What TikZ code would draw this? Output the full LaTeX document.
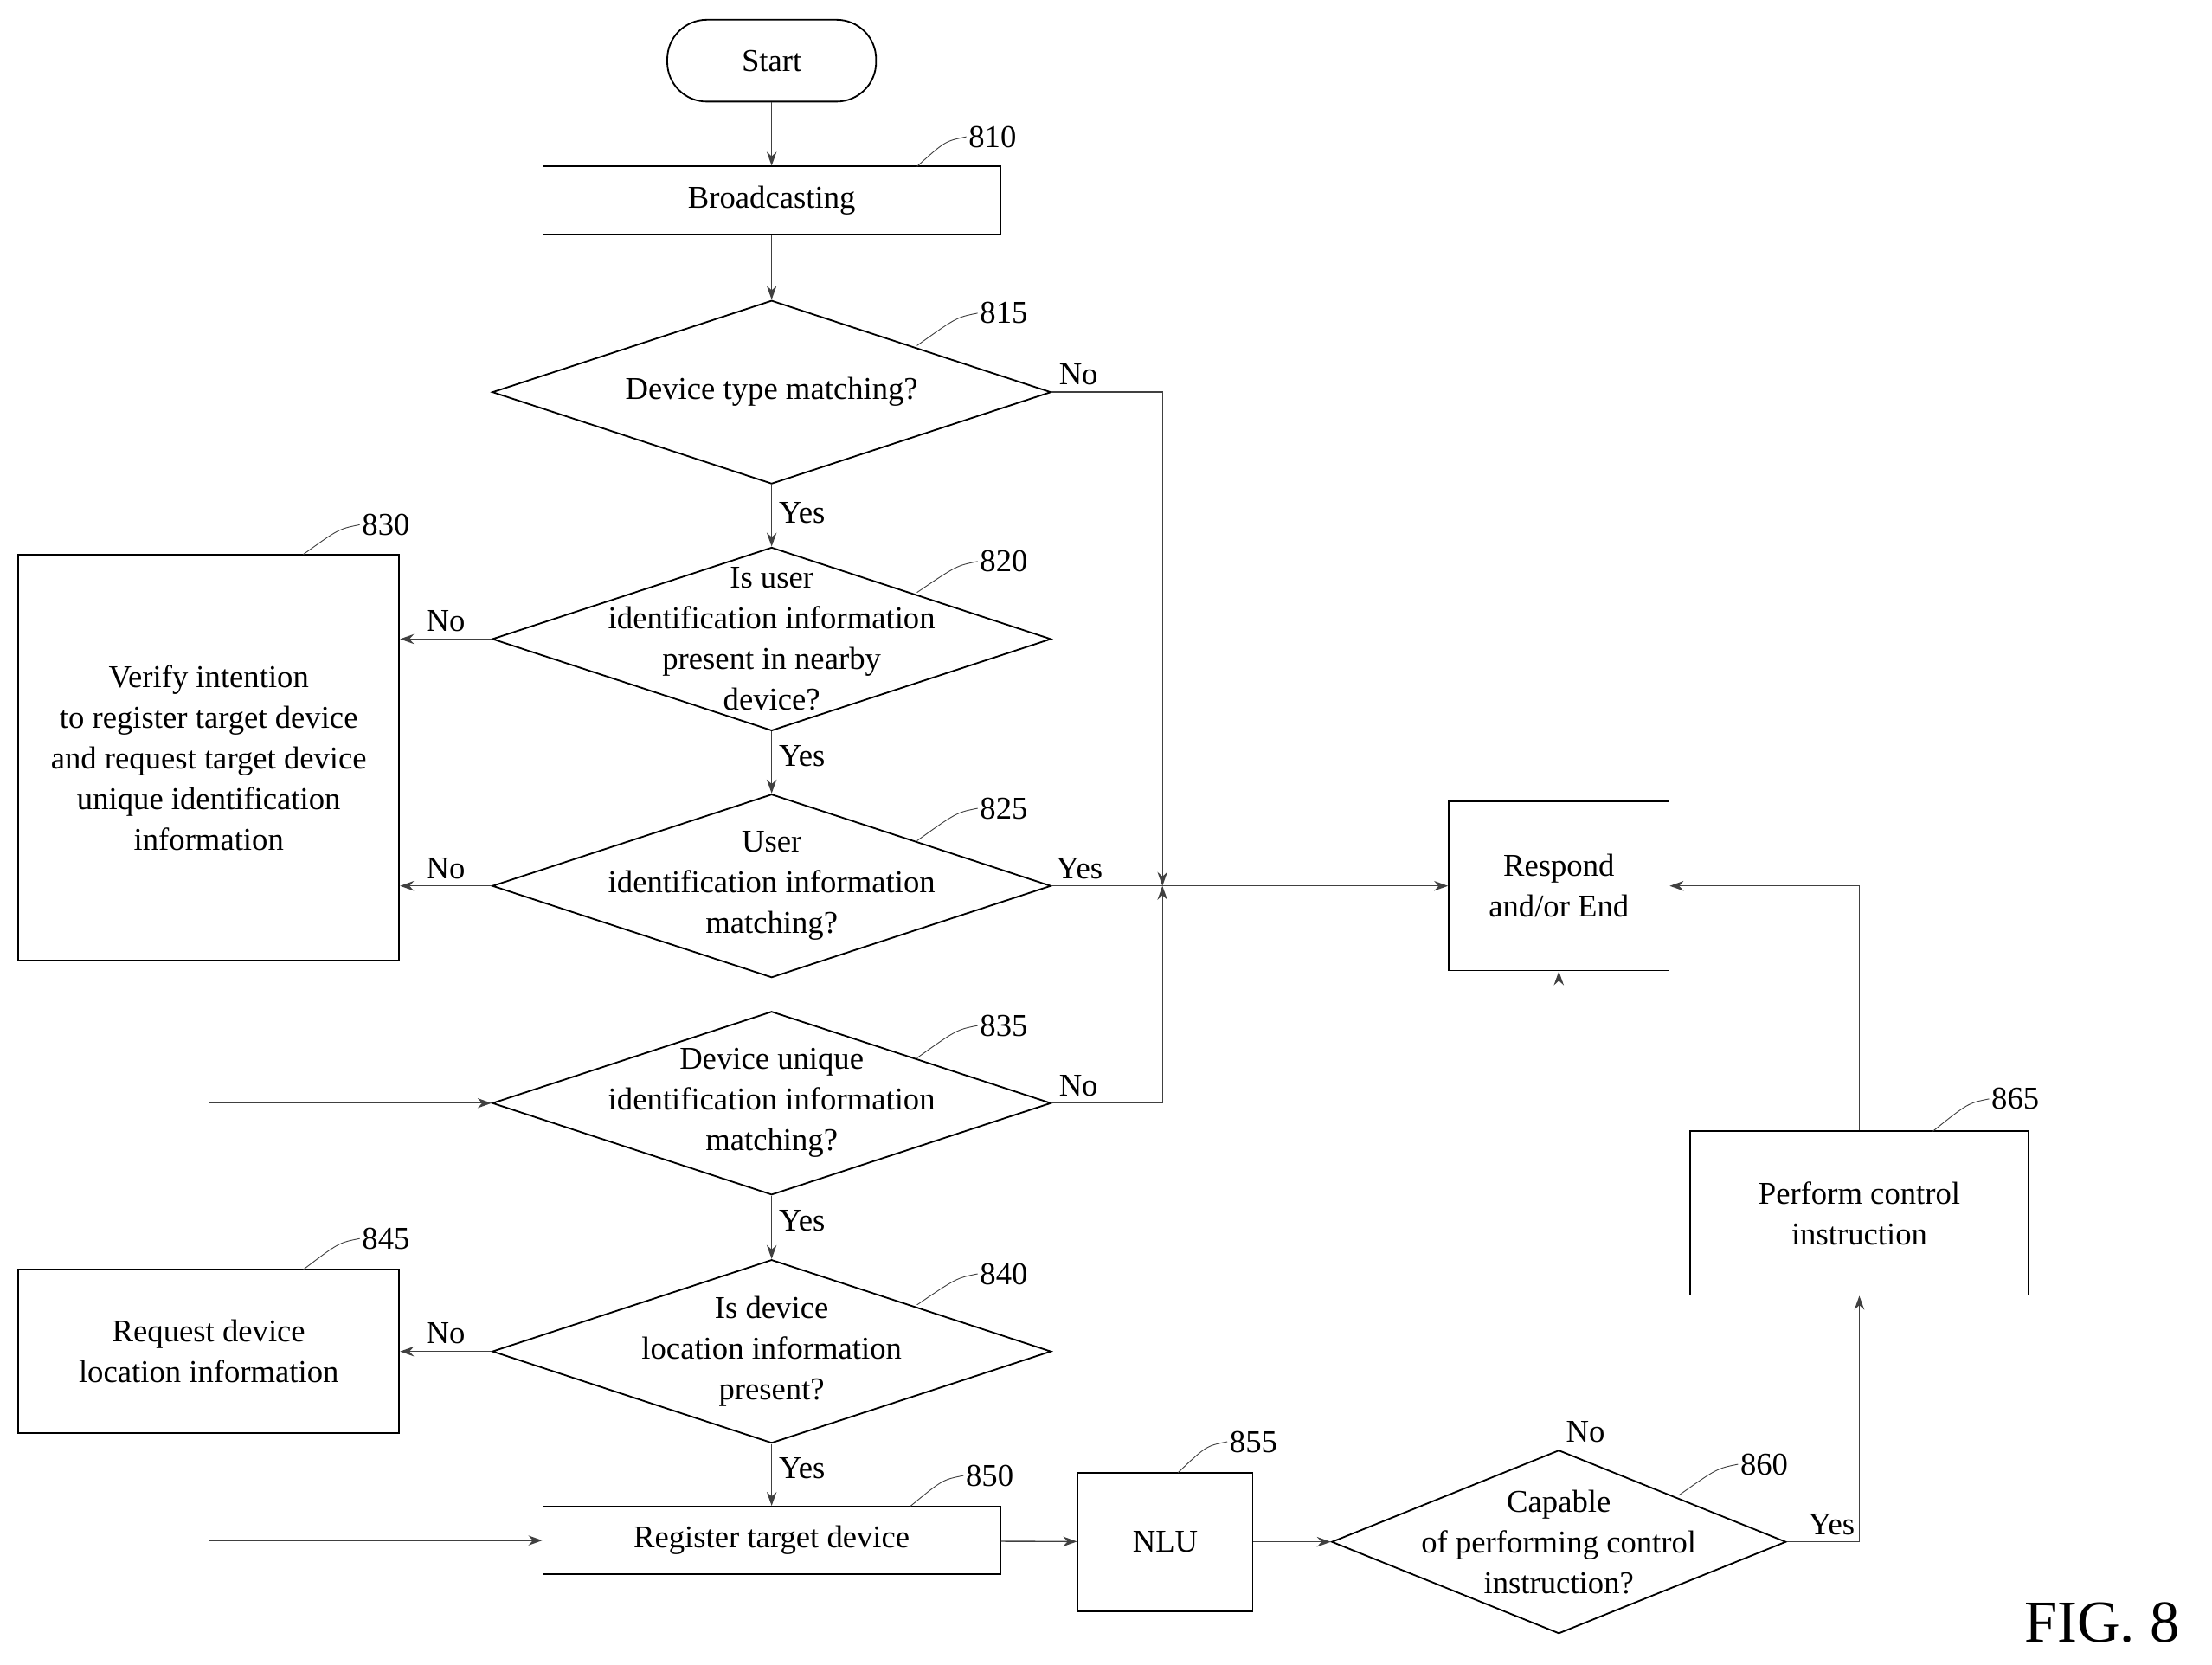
\documentclass[tikz,border=0pt]{standalone}
\usepackage{fontspec}
\setmainfont{Liberation Serif}
\usetikzlibrary{shapes.geometric,arrows.meta}
\begin{document}
\begin{tikzpicture}[x=0.025cm,y=-0.025cm,
    every node/.style={font=\fontsize{16}{20.5}\selectfont},
    box/.style={draw,thick,inner sep=0pt},
    dia/.style={draw,thick,diamond,inner sep=0pt,minimum width=9.9cm,minimum height=3.25cm},
    txt/.style={align=center,inner sep=0pt},
    line/.style={draw=black!75,semithick},
    arr/.style={line,-{Stealth[length=7pt,width=5pt]}},
    refl/.style={line,thin}]
\useasboundingbox (0,0) rectangle (1568,1180);
% process boxes
\node[box,rounded corners=0.7cm,minimum width=3.7cm,minimum height=1.45cm] (start) at (547,43) {Start};
\node[box,minimum width=8.1cm,minimum height=1.2cm] (b810) at (547,142) {Broadcasting};
\node[box,minimum width=6.75cm,minimum height=7.2cm,txt] (b830) at (148,537) {Verify intention\\to register target device\\and request target device\\unique identification\\information};
\node[box,minimum width=6.75cm,minimum height=2.9cm,txt] (b845) at (148,958) {Request device\\location information};
\node[box,minimum width=8.1cm,minimum height=1.2cm] (b850) at (547,1092) {Register target device};
\node[box,minimum width=3.1cm,minimum height=2.45cm] (b855) at (826,1093) {NLU};
\node[box,minimum width=3.9cm,minimum height=3.0cm,txt] (resp) at (1105,628) {Respond\\and/or End};
\node[box,minimum width=6.0cm,minimum height=2.9cm,txt] (b865) at (1318,860) {Perform control\\instruction};
% decisions
\node[dia] (d815) at (547,278) {};
\node[txt] at (d815) {Device type matching?};
\node[dia] (d820) at (547,453) {};
\node[txt] at (d820) {Is user\\identification information\\present in nearby\\device?};
\node[dia] (d825) at (547,628) {};
\node[txt] at (d825) {User\\identification information\\matching?};
\node[dia] (d835) at (547,782) {};
\node[txt] at (d835) {Device unique\\identification information\\matching?};
\node[dia] (d840) at (547,958) {};
\node[txt] at (d840) {Is device\\location information\\present?};
\node[dia,minimum width=8.05cm] (d860) at (1105,1093) {};
\node[txt] at (d860) {Capable\\of performing control\\instruction?};
\coordinate (j) at (824,628);
% connectors
\draw[arr] (start) -- (b810);
\draw[arr] (b810) -- (d815);
\draw[arr] (d815.south) -- node[right,pos=0.45]{Yes} (d820.north);
\draw[arr] (d820.south) -- node[right,pos=0.4]{Yes} (d825.north);
\draw[arr] (d835.south) -- node[right,pos=0.4]{Yes} (d840.north);
\draw[arr] (d840.south) -- node[right,pos=0.4]{Yes} (b850.north);
\draw[arr] (d815.east) node[above right]{No} -| (j);
\draw[arr] (d835.east) node[above right]{No} -| (j);
\draw[line] (d825.east) -- node[above,pos=0.25]{Yes} (j);
\draw[arr] (j) -- (resp.west);
\draw[arr] (d820.west) -- node[above]{No} (b830.east |- d820.west);
\draw[arr] (d825.west) -- node[above]{No} (b830.east |- d825.west);
\draw[arr] (d840.west) -- node[above]{No} (b845.east |- d840.west);
\draw[arr] (b830.south) |- (d835.west);
\draw[arr] (b845.south) |- (b850.west);
\draw[arr] (b850) -- (b855);
\draw[arr] (b855) -- (d860.west);
\draw[arr] (d860.north) -- node[above right,pos=0]{No} (resp.south);
\draw[arr] (d860.east) -| node[above right,pos=0.1]{Yes} (b865.south);
\draw[arr] (b865.north) |- (resp.east);
% reference numerals
\foreach \n/\x/\y/\ex/\ey in {810/685/97/650/118, 815/693/222/650/245, 820/693/398/650/420,
  825/693/573/650/596, 830/255/372/215/393, 835/693/727/650/750, 840/693/903/650/925,
  845/255/878/215/900, 850/683/1046/645/1068, 855/870/1022/835/1044, 860/1232/1038/1190/1060,
  865/1410/779/1370/802}
  {\node[anchor=west,inner sep=1pt] (r\n) at (\x,\y) {\n};
   \draw[refl] (r\n.west) .. controls (\x-15,\y+3) .. (\ex,\ey);}
\node[font=\fontsize{30}{32}\selectfont] (fig) at (1490,1150) {FIG. 8};
\end{tikzpicture}
\end{document}
